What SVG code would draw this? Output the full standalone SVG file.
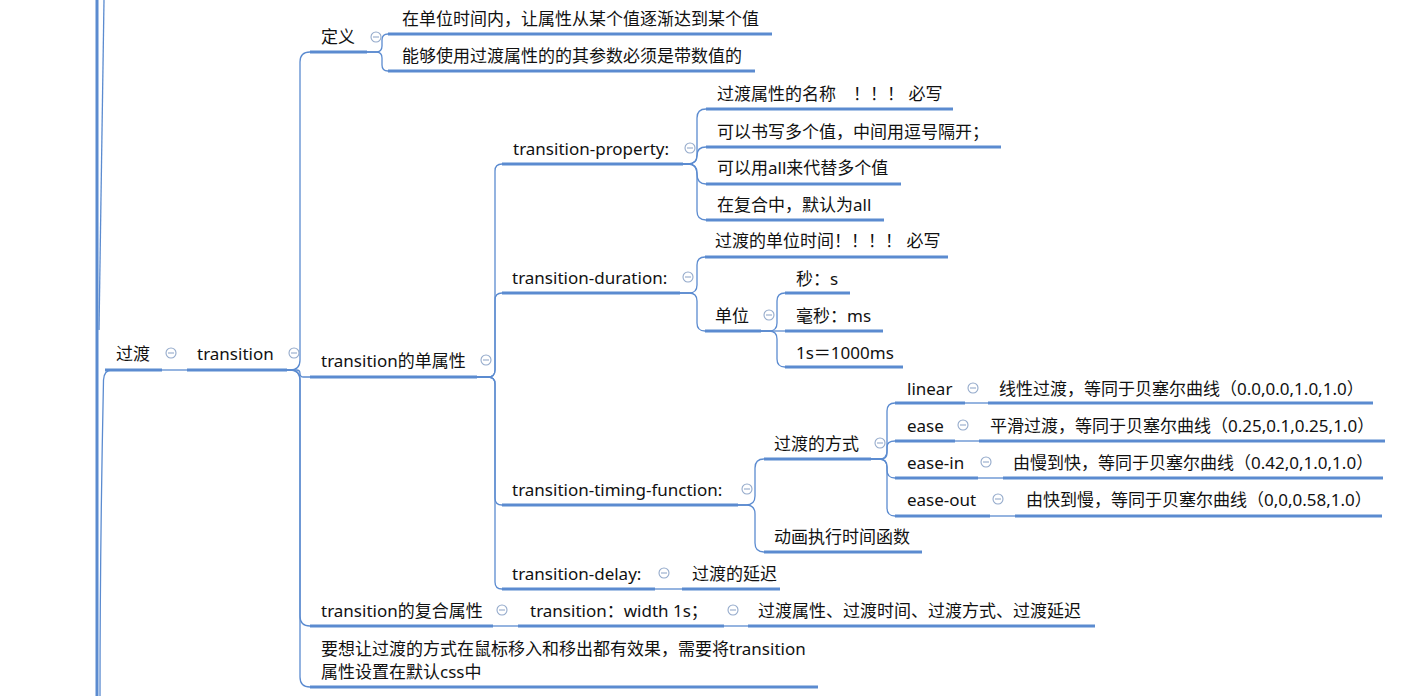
<svg xmlns="http://www.w3.org/2000/svg" width="1426" height="696" viewBox="0 0 1426 696">
<defs>
<style>
text{font-family:"Noto Sans","Noto Sans CJK SC",sans-serif;font-size:17px;fill:#111;dominant-baseline:central}
.u{stroke:#5b8bd0;stroke-width:3;fill:none;stroke-linecap:butt}
.c{stroke:#5b8bd0;stroke-width:1.3;fill:none}
.t{stroke:#5b8bd0;stroke-width:3;fill:none}
</style>
<g id="icon"><circle cx="0" cy="0" r="5" fill="#fff" stroke="#94aacb" stroke-width="1.1"/><line x1="-3" y1="0" x2="3" y2="0" stroke="#94aacb" stroke-width="1.1"/></g>
</defs>
<rect width="1426" height="696" fill="#fff"/>
<g id="connectors">
<line class="t" x1="97" y1="0" x2="97" y2="696"/>
<path class="c" d="M104 0 C103 120 100 230 99 330"/>
<path class="c" d="M112 370 Q104 370 103.5 380 C101 500 100 600 100 696"/>
<path class="c" d="M162 370 H187"/>
<path class="c" d="M287 370 L290 370 Q300 370 300 360 L300 62 Q300 52 310 52"/>
<path class="c" d="M287 370 L296.5 370 Q300 370 300 373.5 Q300 377 303.5 377 L310 377"/>
<path class="c" d="M287 370 L290 370 Q300 370 300 380 L300 616 Q300 626 310 626"/>
<path class="c" d="M287 370 L290 370 Q300 370 300 380 L300 677 Q300 687 310 687"/>
<path class="c" d="M367 52 L376 52 Q382 52 382 46 L382 40 Q382 34 388 34"/>
<path class="c" d="M367 52 L376 52 Q382 52 382 58 L382 65 Q382 71 388 71"/>
<path class="c" d="M477 377 L488 377 Q495 377 495 370 L495 171 Q495 164 502 164"/>
<path class="c" d="M477 377 L488 377 Q495 377 495 370 L495 300 Q495 293 502 293"/>
<path class="c" d="M477 377 L488 377 Q495 377 495 384 L495 498 Q495 505 502 505"/>
<path class="c" d="M477 377 L488 377 Q495 377 495 384 L495 582 Q495 589 502 589"/>
<path class="c" d="M683 164 L688 164 Q697 164 697 155 L697 118 Q697 109 706 109"/>
<path class="c" d="M683 164 L688 164 Q697 164 697 155.5 Q697 147 706 147"/>
<path class="c" d="M683 164 L688 164 Q697 164 697 174 Q697 184 706 184"/>
<path class="c" d="M683 164 L688 164 Q697 164 697 173 L697 211 Q697 220 706 220"/>
<path class="c" d="M680 293 L689 293 Q697 293 697 285 L697 265 Q697 257 705 257"/>
<path class="c" d="M680 293 L689 293 Q697 293 697 301 L697 323 Q697 331 705 331"/>
<path class="c" d="M761 331 L769 331 Q777 331 777 323 L777 301 Q777 293 785 293"/>
<path class="c" d="M761 331 H785"/>
<path class="c" d="M761 331 L769 331 Q777 331 777 339 L777 359 Q777 367 785 367"/>
<path class="c" d="M738 505 L746 505 Q755 505 755 496 L755 468 Q755 459 764 459"/>
<path class="c" d="M738 505 L746 505 Q755 505 755 514 L755 543 Q755 552 764 552"/>
<path class="c" d="M871 459 L879 459 Q887 459 887 451 L887 411 Q887 403 895 403"/>
<path class="c" d="M871 459 L881 459 Q887 459 887 453 L887 447 Q887 441 895 441"/>
<path class="c" d="M871 459 L879 459 Q887 459 887 467 L887 470 Q887 478 895 478"/>
<path class="c" d="M871 459 L879 459 Q887 459 887 467 L887 508 Q887 516 895 516"/>
<path class="c" d="M965 403 H988"/>
<path class="c" d="M955 441 H979"/>
<path class="c" d="M978 478 H1003"/>
<path class="c" d="M990 516 H1015"/>
<path class="c" d="M655 589 H682"/>
<path class="c" d="M493 626 H518"/>
<path class="c" d="M724 626 H748"/>
</g>
<g id="n-guodu"><line class="u" x1="105" y1="370" x2="162" y2="370"/><text x="116" y="353">过渡</text><use href="#icon" x="171" y="353"/></g>
<g id="n-transition"><line class="u" x1="187" y1="370" x2="287" y2="370"/><text x="197" y="353">transition</text><use href="#icon" x="294" y="353"/></g>
<g id="n-dingyi"><line class="u" x1="310" y1="52" x2="367" y2="52"/><text x="321" y="36">定义</text><use href="#icon" x="376" y="37"/></g>
<g id="n-def1"><line class="u" x1="388" y1="34" x2="772" y2="34"/><text x="402" y="18">在单位时间内，让属性从某个值逐渐达到某个值</text></g>
<g id="n-def2"><line class="u" x1="388" y1="71" x2="755" y2="71"/><text x="402" y="55">能够使用过渡属性的的其参数必须是带数值的</text></g>
<g id="n-single"><line class="u" x1="310" y1="377" x2="477" y2="377"/><text x="321" y="360">transition的单属性</text><use href="#icon" x="486" y="360"/></g>
<g id="n-property"><line class="u" x1="502" y1="164" x2="683" y2="164"/><text x="513" y="148">transition-property:</text><use href="#icon" x="690" y="148"/></g>
<g id="n-p1"><line class="u" x1="706" y1="109" x2="953" y2="109"/><text x="717" y="93">过渡属性的名称　！！！ 必写</text></g>
<g id="n-p2"><line class="u" x1="706" y1="147" x2="1001" y2="147"/><text x="717" y="131">可以书写多个值，中间用逗号隔开；</text></g>
<g id="n-p3"><line class="u" x1="706" y1="184" x2="901" y2="184"/><text x="717" y="167">可以用all来代替多个值</text></g>
<g id="n-p4"><line class="u" x1="706" y1="220" x2="884" y2="220"/><text x="717" y="204">在复合中，默认为all</text></g>
<g id="n-duration"><line class="u" x1="502" y1="293" x2="680" y2="293"/><text x="512" y="277">transition-duration:</text><use href="#icon" x="688" y="277"/></g>
<g id="n-d1"><line class="u" x1="705" y1="257" x2="948" y2="257"/><text x="715" y="240">过渡的单位时间！！！！ 必写</text></g>
<g id="n-unit"><line class="u" x1="705" y1="331" x2="761" y2="331"/><text x="715" y="315">单位</text><use href="#icon" x="769" y="315"/></g>
<g id="n-u1"><line class="u" x1="785" y1="293" x2="850" y2="293"/><text x="796" y="278">秒：s</text></g>
<g id="n-u2"><line class="u" x1="785" y1="331" x2="883" y2="331"/><text x="796" y="315">毫秒：ms</text></g>
<g id="n-u3"><line class="u" x1="785" y1="367" x2="903" y2="367"/><text x="796" y="352">1s＝1000ms</text></g>
<g id="n-timing"><line class="u" x1="502" y1="505" x2="738" y2="505"/><text x="512" y="489">transition-timing-function:</text><use href="#icon" x="747" y="489"/></g>
<g id="n-way"><line class="u" x1="764" y1="459" x2="871" y2="459"/><text x="774" y="443">过渡的方式</text><use href="#icon" x="880" y="443"/></g>
<g id="n-linear"><line class="u" x1="895" y1="403" x2="965" y2="403"/><text x="907" y="388">linear</text><use href="#icon" x="973" y="388"/></g>
<g id="n-linear-d"><line class="u" x1="988" y1="403" x2="1373" y2="403"/><text x="999" y="388">线性过渡，等同于贝塞尔曲线（0.0,0.0,1.0,1.0）</text></g>
<g id="n-ease"><line class="u" x1="895" y1="441" x2="955" y2="441"/><text x="907" y="425">ease</text><use href="#icon" x="963" y="425"/></g>
<g id="n-ease-d"><line class="u" x1="979" y1="441" x2="1385" y2="441"/><text x="990" y="425">平滑过渡，等同于贝塞尔曲线（0.25,0.1,0.25,1.0）</text></g>
<g id="n-easein"><line class="u" x1="895" y1="478" x2="978" y2="478"/><text x="907" y="462">ease-in</text><use href="#icon" x="986" y="462"/></g>
<g id="n-easein-d"><line class="u" x1="1003" y1="478" x2="1383" y2="478"/><text x="1013" y="462">由慢到快，等同于贝塞尔曲线（0.42,0,1.0,1.0）</text></g>
<g id="n-easeout"><line class="u" x1="895" y1="516" x2="990" y2="516"/><text x="907" y="499">ease-out</text><use href="#icon" x="998" y="499"/></g>
<g id="n-easeout-d"><line class="u" x1="1015" y1="516" x2="1382" y2="516"/><text x="1026" y="499">由快到慢，等同于贝塞尔曲线（0,0,0.58,1.0）</text></g>
<g id="n-func"><line class="u" x1="764" y1="552" x2="922" y2="552"/><text x="774" y="536">动画执行时间函数</text></g>
<g id="n-delay"><line class="u" x1="502" y1="589" x2="655" y2="589"/><text x="512" y="573">transition-delay:</text><use href="#icon" x="664" y="573"/></g>
<g id="n-delay-d"><line class="u" x1="682" y1="589" x2="780" y2="589"/><text x="692" y="573">过渡的延迟</text></g>
<g id="n-compound"><line class="u" x1="310" y1="626" x2="493" y2="626"/><text x="321" y="610">transition的复合属性</text><use href="#icon" x="502" y="610"/></g>
<g id="n-shorthand"><line class="u" x1="518" y1="626" x2="724" y2="626"/><text x="530" y="610">transition：width 1s；</text><use href="#icon" x="733" y="610"/></g>
<g id="n-shorthand-d"><line class="u" x1="748" y1="626" x2="1095" y2="626"/><text x="758" y="610">过渡属性、过渡时间、过渡方式、过渡延迟</text></g>
<g id="n-note"><line class="u" x1="310" y1="687" x2="818" y2="687"/><text x="321" y="648">要想让过渡的方式在鼠标移入和移出都有效果，需要将transition</text><text x="321" y="671">属性设置在默认css中</text></g>
</svg>
